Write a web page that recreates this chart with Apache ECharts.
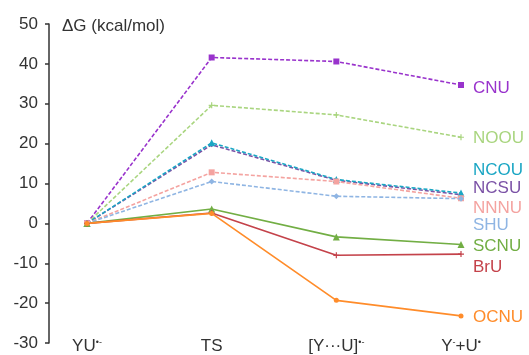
<!DOCTYPE html>
<html>
<head>
<meta charset="utf-8">
<script src="https://cdn.jsdelivr.net/npm/echarts@6/dist/echarts.min.js"></script>
<style>
  html, body { margin: 0; padding: 0; background: #fff; }
  #chart { width: 529px; height: 355px; }
</style>
</head>
<body>
<div id="chart"></div>
<script>
const categories = ['YU{s|•-}', 'TS', '[Y···U]{s|•-}', 'Y{s|-}+U{s|•}'];

const seriesNames = ['CNU', 'NOOU', 'NCSU', 'NCOU', 'NNNU', 'SHU', 'SCNU', 'BrU', 'OCNU'];
const cnu  = [0, 41.6, 40.6, 34.7];
const noou = [0, 29.6, 27.2, 21.6];
const ncsu = [0, 19.7, 10.8, 7.2];
const ncou = [0, 20.2, 11.0, 7.6];
const nnnu = [0, 12.8, 10.5, 6.3];
const shu  = [0, 10.5, 6.8, 6.2];
const scnu = [0, 3.6, -3.4, -5.3];
const bru  = [0, 2.6, -8.0, -7.7];
const ocnu = [0, 2.5, -19.3, -23.2];
const yTicks = [-30, -20, -10, 0, 10, 20, 30, 40, 50];

const chart = echarts.init(document.getElementById('chart'));

const plus = 'path://M4 0H6V4H10V6H6V10H4V6H0V4H4Z';
const font = 'Liberation Sans, Arial, sans-serif';

function line(name, data, color, dashed, symbol, size, labelDy) {
  return {
    name: name,
    type: 'line',
    data: data,
    symbol: symbol,
    symbolSize: size,
    showAllSymbol: true,
    itemStyle: { color: color },
    lineStyle: { color: color, width: dashed ? 1.6 : 1.7, type: dashed ? [4, 2] : 'solid' },
    endLabel: {
      show: true,
      formatter: name,
      color: color,
      fontSize: 17,
      fontFamily: font,
      offset: [4, labelDy]
    }
  };
}

chart.setOption({
  animation: false,
  title: {
    text: 'ΔG (kcal/mol)',
    left: 57,
    top: 13,
    textStyle: { fontSize: 17, fontWeight: 'normal', color: '#333', fontFamily: font }
  },
  grid: { left: 87, right: 68, top: 24, bottom: 10 },
  xAxis: {
    type: 'category',
    data: categories,
    boundaryGap: false,
    axisLine: { show: false },
    axisTick: { show: false },
    axisLabel: {
      margin: -5,
      color: '#333',
      fontSize: 17,
      fontFamily: font,
      rich: { s: { fontSize: 9, verticalAlign: 'top', padding: [0, 0, 8, 0], color: '#333' } }
    }
  },
  yAxis: {
    type: 'value',
    min: yTicks[0],
    max: yTicks[yTicks.length - 1],
    interval: 10,
    offset: 38,
    axisLine: { show: true, lineStyle: { color: '#333', width: 1.5 } },
    axisTick: { show: true, length: 4, lineStyle: { color: '#333', width: 1.5 } },
    splitLine: { show: false },
    axisLabel: { margin: 11, color: '#333', fontSize: 17, fontFamily: font }
  },
  series: [
    line(seriesNames[0], cnu,  '#9933CC', true,  'rect', 6, 3),
    line(seriesNames[1], noou, '#A9D57F', true,  plus, 6, 1),
    line(seriesNames[2], ncsu, '#7B52A6', true,  'diamond', 5, -6),
    line(seriesNames[3], ncou, '#1AA6C4', true,  'triangle', 7, -23),
    line(seriesNames[4], nnnu, '#F4A3A0', true,  'rect', 6, 10),
    line(seriesNames[5], shu,  '#8FB5E3', true,  'diamond', 6, 27),
    line(seriesNames[6], scnu, '#72AE44', false, 'triangle', 7, 2),
    line(seriesNames[7], bru,  '#C4424A', false, plus, 6, 13),
    line(seriesNames[8], ocnu, '#FF8C2A', false, 'circle', 5, 1)
  ]
});
</script>
</body>
</html>
